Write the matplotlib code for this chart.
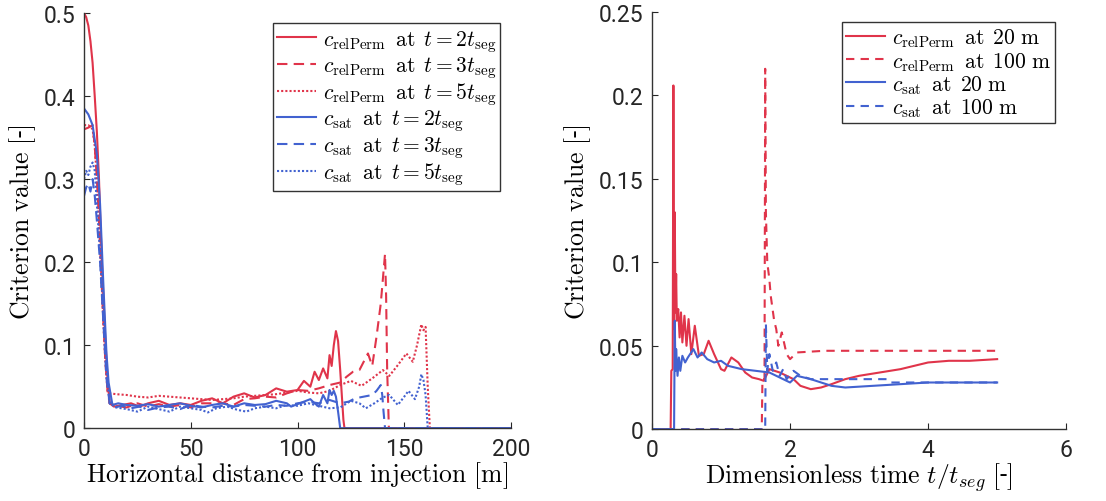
import matplotlib
matplotlib.use("Agg")
from matplotlib import pyplot as plt

plt.rcParams['font.family'] = ['Roboto', 'DejaVu Sans']
plt.rcParams['mathtext.fontset'] = 'cm'

RED = "#e0344a"
BLUE = "#4262d0"

#   Left panel: criterion vs horizontal distance
rp2_x = [0, 1, 2, 3, 4, 5, 6, 7, 7.5, 8.5, 9.8, 11, 12, 14, 18, 22, 26, 30, 35, 40, 45, 50, 55, 60, 65, 70, 75, 80, 85, 90, 95, 100, 103, 106, 108, 110, 112, 114, 115, 116, 117, 118, 119, 120, 121, 121.5, 122, 200]
rp2_y = [0.50, 0.495, 0.485, 0.466, 0.44, 0.40, 0.357, 0.30, 0.26, 0.19, 0.116, 0.06, 0.03, 0.026, 0.028, 0.03, 0.026, 0.03, 0.033, 0.028, 0.03, 0.028, 0.033, 0.036, 0.03, 0.038, 0.042, 0.037, 0.04, 0.048, 0.044, 0.046, 0.057, 0.05, 0.068, 0.058, 0.072, 0.06, 0.088, 0.075, 0.1, 0.117, 0.105, 0.07, 0.03, 0.01, 0, 0]

rp3_x = [0, 2, 4, 5, 6, 7, 8, 9, 10, 11, 12, 15, 20, 25, 30, 35, 40, 45, 50, 55, 60, 65, 70, 75, 80, 85, 90, 95, 100, 105, 110, 115, 120, 123, 126, 129, 131, 133, 135, 137, 138, 139, 140, 141, 141.5, 142, 142.8, 200]
rp3_y = [0.36, 0.362, 0.365, 0.34, 0.30, 0.25, 0.19, 0.13, 0.08, 0.045, 0.03, 0.027, 0.025, 0.03, 0.026, 0.029, 0.026, 0.028, 0.025, 0.03, 0.03, 0.03, 0.028, 0.035, 0.036, 0.038, 0.037, 0.042, 0.046, 0.045, 0.048, 0.052, 0.055, 0.062, 0.068, 0.07, 0.08, 0.09, 0.075, 0.11, 0.13, 0.15, 0.18, 0.21, 0.16, 0.07, 0, 0]

rp5_x = [0, 2, 4, 5, 6, 7, 8, 9, 10, 11, 12, 15, 20, 25, 30, 35, 40, 45, 50, 55, 60, 65, 70, 75, 80, 85, 90, 95, 100, 105, 110, 115, 120, 125, 130, 135, 140, 143, 147, 151, 154, 156, 158, 159, 160, 161, 162, 200]
rp5_y = [0.365, 0.365, 0.36, 0.34, 0.30, 0.25, 0.19, 0.13, 0.08, 0.045, 0.042, 0.041, 0.04, 0.038, 0.037, 0.039, 0.038, 0.037, 0.036, 0.035, 0.034, 0.035, 0.036, 0.038, 0.039, 0.04, 0.041, 0.043, 0.045, 0.043, 0.042, 0.045, 0.052, 0.057, 0.051, 0.06, 0.07, 0.063, 0.076, 0.09, 0.08, 0.1, 0.125, 0.118, 0.122, 0.05, 0, 0]

sat2_x = [0, 2, 4, 6, 7.5, 9, 10.5, 11.5, 13.3, 16, 20, 25, 30, 35, 40, 45, 50, 55, 60, 65, 70, 75, 80, 85, 90, 95, 97, 100, 103, 106, 108, 110, 112, 114, 115, 116, 117, 118, 119, 120, 200]
sat2_y = [0.385, 0.378, 0.365, 0.33, 0.27, 0.176, 0.09, 0.055, 0.028, 0.03, 0.028, 0.027, 0.029, 0.026, 0.028, 0.03, 0.027, 0.025, 0.028, 0.03, 0.026, 0.03, 0.028, 0.029, 0.033, 0.03, 0.026, 0.029, 0.032, 0.035, 0.03, 0.026, 0.04, 0.03, 0.046, 0.04, 0.045, 0.038, 0.02, 0, 0]

sat3_x = [0, 1, 2, 3, 4, 5, 6, 7.5, 9, 10.5, 12, 14, 18, 22, 26, 30, 35, 40, 45, 50, 55, 60, 65, 70, 75, 80, 85, 90, 95, 100, 105, 110, 115, 120, 124, 127, 131, 135, 137, 139, 139.7, 140.3, 141, 200]
sat3_y = [0.28, 0.29, 0.295, 0.285, 0.3, 0.28, 0.25, 0.2, 0.13, 0.06, 0.03, 0.025, 0.027, 0.024, 0.026, 0.022, 0.025, 0.026, 0.023, 0.028, 0.026, 0.025, 0.027, 0.026, 0.028, 0.027, 0.026, 0.028, 0.027, 0.03, 0.032, 0.03, 0.034, 0.03, 0.032, 0.036, 0.038, 0.04, 0.045, 0.052, 0.04, 0.02, 0, 0]

sat5_x = [0, 1, 2, 3, 4, 5, 6, 7.5, 9, 10.5, 12, 15, 20, 25, 30, 35, 40, 45, 50, 55, 58, 62, 67, 72, 76, 80, 85, 90, 95, 100, 105, 110, 115, 120, 125, 129, 132, 136, 140, 143, 147, 150, 152, 155, 157, 158, 159, 160, 161, 200]
sat5_y = [0.3, 0.31, 0.305, 0.315, 0.32, 0.31, 0.27, 0.21, 0.14, 0.07, 0.03, 0.025, 0.023, 0.02, 0.026, 0.023, 0.02, 0.026, 0.024, 0.022, 0.019, 0.024, 0.026, 0.022, 0.02, 0.024, 0.026, 0.024, 0.028, 0.027, 0.03, 0.027, 0.024, 0.025, 0.033, 0.03, 0.024, 0.03, 0.037, 0.04, 0.028, 0.038, 0.045, 0.035, 0.05, 0.065, 0.058, 0.04, 0, 0]

#   Right panel: criterion vs dimensionless time
rp20_t = [0, 0.27, 0.28, 0.30, 0.31, 0.32, 0.33, 0.34, 0.35, 0.36, 0.38, 0.40, 0.42, 0.44, 0.47, 0.50, 0.53, 0.57, 0.62, 0.68, 0.75, 0.82, 0.90, 1.0, 1.05, 1.15, 1.25, 1.35, 1.45, 1.55, 1.62, 1.7, 1.85, 1.95, 2.05, 2.15, 2.3, 2.45, 2.6, 2.8, 3.0, 3.3, 3.6, 3.8, 4.0, 4.3, 4.6, 5.0]
rp20_y = [0, 0, 0.035, 0.036, 0.206, 0.06, 0.13, 0.07, 0.093, 0.065, 0.072, 0.055, 0.07, 0.052, 0.068, 0.05, 0.066, 0.045, 0.062, 0.044, 0.045, 0.053, 0.045, 0.036, 0.035, 0.043, 0.04, 0.034, 0.031, 0.03, 0.029, 0.036, 0.034, 0.032, 0.03, 0.026, 0.024, 0.025, 0.027, 0.030, 0.032, 0.034, 0.036, 0.038, 0.040, 0.041, 0.041, 0.042]

rp100_t = [0, 1.59, 1.6, 1.63, 1.64, 1.65, 1.67, 1.70, 1.72, 1.77, 1.80, 1.83, 1.88, 1.95, 2.0, 2.1, 2.5, 3.0, 4.0, 5.0]
rp100_y = [0, 0, 0.03, 0.03, 0.216, 0.13, 0.1, 0.09, 0.08, 0.065, 0.06, 0.05, 0.058, 0.045, 0.042, 0.046, 0.047, 0.047, 0.047, 0.047]

sat20_t = [0, 0.32, 0.33, 0.34, 0.35, 0.37, 0.39, 0.41, 0.44, 0.48, 0.52, 0.6, 0.66, 0.72, 0.8, 0.9, 1.0, 1.1, 1.3, 1.5, 1.7, 1.9, 2.0, 2.1, 2.3, 2.6, 2.8, 3.2, 3.6, 4.0, 5.0]
sat20_y = [0, 0, 0.065, 0.035, 0.048, 0.032, 0.043, 0.035, 0.044, 0.04, 0.043, 0.048, 0.043, 0.046, 0.042, 0.04, 0.041, 0.038, 0.036, 0.035, 0.034, 0.03, 0.028, 0.032, 0.03, 0.026, 0.025, 0.026, 0.027, 0.028, 0.028]

sat100_t = [0, 1.64, 1.65, 1.67, 1.7, 1.75, 1.8, 1.85, 1.9, 1.95, 2.05, 2.15, 2.3, 3.0, 3.4, 3.45, 5.0]
sat100_y = [0, 0, 0.063, 0.035, 0.045, 0.035, 0.04, 0.032, 0.036, 0.03, 0.035, 0.032, 0.030, 0.03, 0.03, 0.028, 0.028]

fig = plt.figure(figsize=(11.06, 5.02), dpi=100)
ax1 = fig.add_axes([0.076, 0.145, 0.386, 0.827])
ax2 = fig.add_axes([0.5895, 0.143, 0.3745, 0.831])

lw = 1.5
sp = r"\ \,"
ax1.plot(rp2_x, rp2_y, color=RED, lw=lw, ls="-", label=r"$c_{\mathrm{relPerm}}" + sp + r"\mathrm{at}" + sp + r"t = 2t_{\mathrm{seg}}$")
ax1.plot(rp3_x, rp3_y, color=RED, lw=lw, ls=(0, (5, 3)), label=r"$c_{\mathrm{relPerm}}" + sp + r"\mathrm{at}" + sp + r"t = 3t_{\mathrm{seg}}$")
ax1.plot(rp5_x, rp5_y, color=RED, lw=lw, ls=(0, (1, 1)), label=r"$c_{\mathrm{relPerm}}" + sp + r"\mathrm{at}" + sp + r"t = 5t_{\mathrm{seg}}$")
ax1.plot(sat2_x, sat2_y, color=BLUE, lw=lw, ls="-", label=r"$c_{\mathrm{sat}}" + sp + r"\mathrm{at}" + sp + r"t = 2t_{\mathrm{seg}}$")
ax1.plot(sat3_x, sat3_y, color=BLUE, lw=lw, ls=(0, (5, 3)), label=r"$c_{\mathrm{sat}}" + sp + r"\mathrm{at}" + sp + r"t = 3t_{\mathrm{seg}}$")
ax1.plot(sat5_x, sat5_y, color=BLUE, lw=lw, ls=(0, (1, 1)), label=r"$c_{\mathrm{sat}}" + sp + r"\mathrm{at}" + sp + r"t = 5t_{\mathrm{seg}}$")

ax2.plot(rp20_t, rp20_y, color=RED, lw=lw, ls="-", label=r"$c_{\mathrm{relPerm}}" + sp + r"\mathrm{at}" + sp + r"20\ \mathrm{m}$")
ax2.plot(rp100_t, rp100_y, color=RED, lw=lw, ls=(0, (4, 3)), label=r"$c_{\mathrm{relPerm}}" + sp + r"\mathrm{at}" + sp + r"100\ \mathrm{m}$")
ax2.plot(sat20_t, sat20_y, color=BLUE, lw=lw, ls="-", label=r"$c_{\mathrm{sat}}" + sp + r"\mathrm{at}" + sp + r"20\ \mathrm{m}$")
ax2.plot(sat100_t, sat100_y, color=BLUE, lw=lw, ls=(0, (4, 3)), label=r"$c_{\mathrm{sat}}" + sp + r"\mathrm{at}" + sp + r"100\ \mathrm{m}$")

ax1.set_xlim(0, 200)
ax1.set_ylim(0, 0.5)
ax1.set_xticks([0, 50, 100, 150, 200])
ax1.set_yticks([0, 0.1, 0.2, 0.3, 0.4, 0.5])
ax1.set_yticklabels(["0", "0.1", "0.2", "0.3", "0.4", "0.5"])
ax1.set_xlabel(r"$\mathrm{Horizontal\ distance\ from\ injection\ [m]}$", fontsize=18.5, labelpad=0)
ax1.set_ylabel(r"$\mathrm{Criterion\ value\ [}$-$\mathrm{]}$", fontsize=18.5, labelpad=4)

ax2.set_xlim(0, 6)
ax2.set_ylim(0, 0.25)
ax2.set_xticks([0, 2, 4, 6])
ax2.set_yticks([0, 0.05, 0.1, 0.15, 0.2, 0.25])
ax2.set_yticklabels(["0", "0.05", "0.1", "0.15", "0.2", "0.25"])
ax2.set_xlabel(r"$\mathrm{Dimensionless\ time}\ t/t_{seg}\ \mathrm{[}$-$\mathrm{]}$", fontsize=18.5, labelpad=0)
ax2.set_ylabel(r"$\mathrm{Criterion\ value\ [}$-$\mathrm{]}$", fontsize=18.5, labelpad=4)

for ax in (ax1, ax2):
    ax.spines["top"].set_visible(False)
    ax.spines["right"].set_visible(False)
    for s in ("left", "bottom"):
        ax.spines[s].set_color("#333333")
        ax.spines[s].set_linewidth(1.0)
    ax.tick_params(labelsize=16.5, length=4, direction="in", colors="#262626", pad=6)

leg_kw = dict(fontsize=15.5, frameon=True, fancybox=False, edgecolor="#333333", handlelength=1.8,
              handletextpad=0.3, labelspacing=0.02, borderpad=0.2, borderaxespad=0, framealpha=1)
l1 = ax1.legend(loc="upper right", bbox_to_anchor=(0.975, 0.975), **leg_kw)
l2 = ax2.legend(loc="upper right", bbox_to_anchor=(0.973, 0.975), **leg_kw)
for l in (l1, l2):
    l.get_frame().set_linewidth(1.0)

fig.savefig("out.png", dpi=100)
